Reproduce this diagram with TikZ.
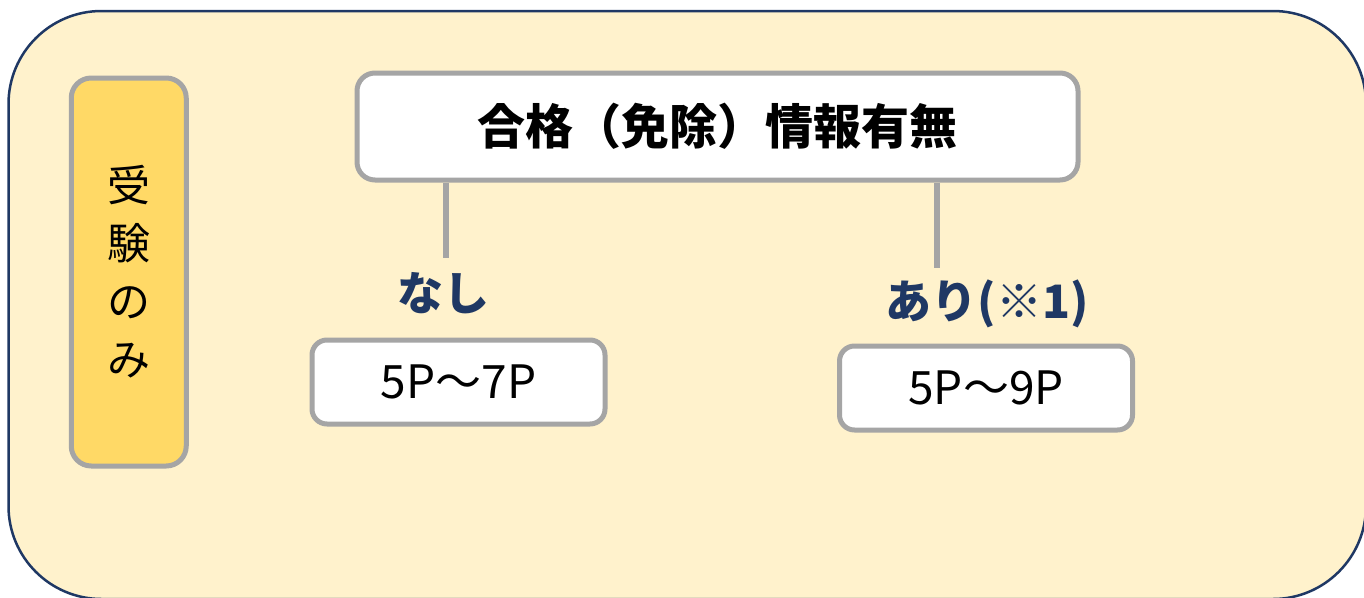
\documentclass[tikz,border=0pt]{standalone}
\usepackage{fontspec}
\setmainfont{Noto Sans CJK JP}
\definecolor{grundgelb}{HTML}{FFF2CC}
\definecolor{randblau}{HTML}{1F3864}
\definecolor{kastengelb}{HTML}{FFD966}
\definecolor{randgrau}{HTML}{A5A5A5}

\begin{document}
\begin{tikzpicture}[x=1pt,y=-1pt,
kasten/.style={draw=randgrau, line width=5pt, fill=white, rounded corners=15pt, inner sep=0pt, minimum width=293pt, minimum height=84pt, font=\fontsize{46}{52}\selectfont},
titelkasten/.style={kasten, rounded corners=18pt, minimum width=721pt, minimum height=107pt, font=\fontsize{48}{54}\selectfont\bfseries},
seitenkasten/.style={kasten, fill=kastengelb, rounded corners=20pt, minimum width=115pt, minimum height=388pt, align=center, font=\fontsize{43}{58}\selectfont},
marke/.style={text=randblau, inner sep=0pt, font=\fontsize{46}{52}\selectfont\bfseries},
ast/.style={draw=randgrau, line width=6pt},
]
\useasboundingbox (0,0) rectangle (1364,597);
\draw[fill=grundgelb, draw=randblau, line width=2.5pt, rounded corners=93pt] (8.5,11) rectangle (1366,599);

\node[seitenkasten] (nur) at (128.75,272) {受\\験\\の\\み};

\node[titelkasten] (titel) at (717.5,126.5) {合格（免除）情報有無};

\coordinate (nein) at (446,258);
\coordinate (ja) at (937,268);
\draw[ast] (titel.south -| nein) -- (nein);
\draw[ast] (titel.south -| ja) -- (ja);

\node[marke] (nlabel) at (443,293) {なし};
\node[marke] (jlabel) at (987,304) {あり(※1)};

\node[kasten] (nbox) at (458.5,382) {5P～7P};
\node[kasten] (jbox) at (986,388) {5P～9P};

\end{tikzpicture}
\end{document}
